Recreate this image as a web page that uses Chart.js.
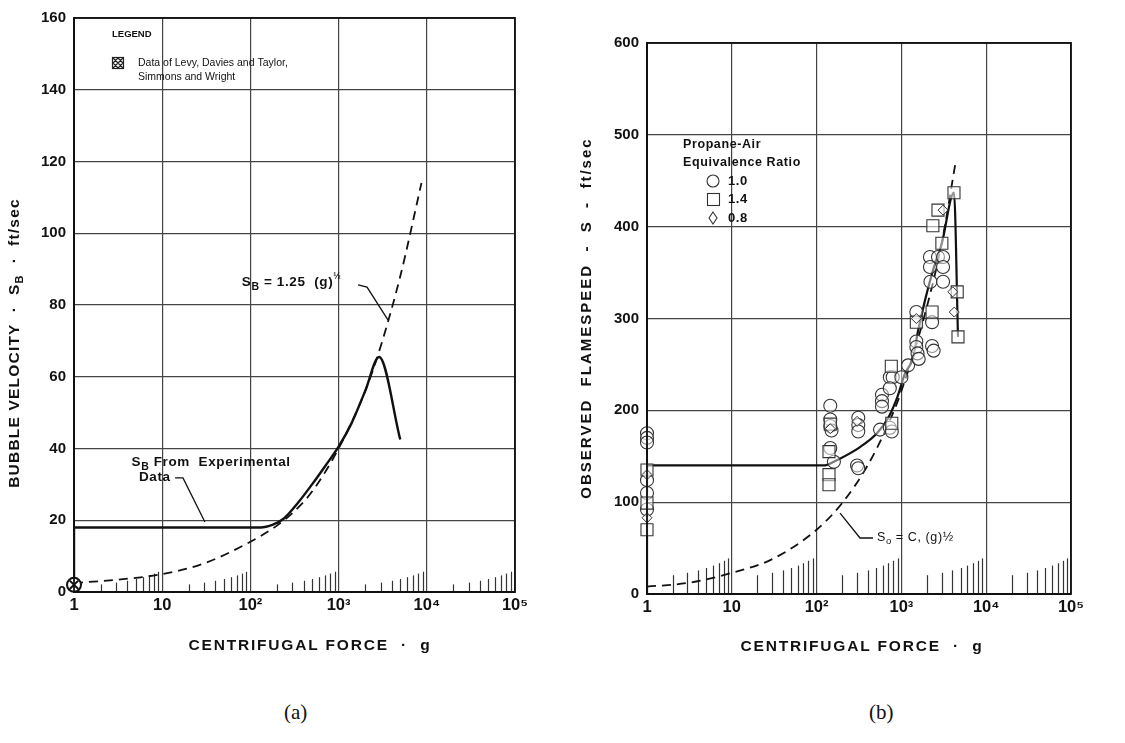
<!DOCTYPE html>
<html>
<head>
<meta charset="utf-8">
<script src="https://cdn.jsdelivr.net/npm/chart.js@4.4.0/dist/chart.umd.min.js"></script>
<style>
  body { margin: 0; background: #fff; width: 1125px; height: 743px; overflow: hidden; position: relative; }
  #wa { position: absolute; left: 0; top: 0; width: 545px; height: 680px; }
  #wb { position: absolute; left: 545px; top: 0; width: 580px; height: 680px; }
  .cap { position: absolute; top: 700px; font: 21px "Liberation Serif", "Times New Roman", serif; color: #111; }
</style>
</head>
<body>
<div id="wa"><canvas id="ca"></canvas></div>
<div id="wb"><canvas id="cb"></canvas></div>
<div class="cap" style="left:284px">(a)</div>
<div class="cap" style="left:869px">(b)</div>
<script>
// ---- shared x axis (log, centrifugal force g)
const gTicks = [1, 10, 100, 1000, 10000, 100000];
const gTickLabels = ['1', '10', '10²', '10³', '10⁴', '10⁵'];

// ---- (a) bubble velocity
const aTicksV = [0, 20, 40, 60, 80, 100, 120, 140, 160];
const aExpG = [1, 1, 130, 180, 240, 350, 500, 700, 1000, 1400, 2000, 2880, 5000];
const aExpV = [0, 18, 18, 18.8, 20.5, 25, 30, 35, 40.5, 47, 56, 65.5, 42.5];
const aFitG = [1, 3, 10, 30, 100, 200, 300, 500, 1000, 2000, 3000, 5000, 8700];
const aFitV = [2.5, 3.4, 5, 8, 14, 18.5, 22, 28, 40, 56, 68.5, 88, 114];
const aLevyG = [1];
const aLevyV = [2];

// ---- (b) observed flamespeed
const bTicksV = [0, 100, 200, 300, 400, 500, 600];
const bLineG = [1, 1, 120, 175, 325, 515, 700, 900, 1100, 1370, 1560, 1900, 2350, 3000, 4170, 4650];
const bLineV = [0, 140, 140, 146, 160, 175, 192, 215, 240, 257, 285, 320, 352, 382, 437, 280];
const bFitG = [1, 3, 10, 30, 100, 200, 400, 700, 1000, 2000, 3000, 4300];
const bFitV = [8, 12, 23, 38, 70, 99, 140, 185, 221, 313, 383, 467];
// equivalence ratio 1.0
const bCircG = [1, 1, 1, 1, 1, 1, 145, 145, 145, 150, 145, 160, 310, 310, 310, 300, 310,
  590, 590, 590, 560, 730, 790, 730, 730, 770, 1000, 1200, 1500, 1500, 1500, 1550, 1600,
  2300, 2300, 2400, 2170, 2700, 3100, 2170, 3100, 2200, 3100];
const bCircV = [175, 170, 165, 124, 110, 92, 205, 190, 183, 178, 159, 144, 192, 184, 177, 140, 137,
  217, 210, 204, 179, 236, 236, 224, 181, 177, 236, 249, 307, 275, 269, 262, 256,
  296, 270, 265, 367, 367, 367, 356, 356, 340, 340];
// equivalence ratio 1.4
const bSqG = [1, 1, 1, 145, 140, 140, 140, 760, 770, 1500, 2300, 2350, 2700, 3000, 4170, 4550, 4650];
const bSqV = [135, 99, 70, 185, 155, 130, 119, 248, 186, 296, 307, 401, 418, 382, 437, 329, 280];
// equivalence ratio 0.8
const bDiaG = [1, 1, 145, 300, 1500, 3100, 4030, 4200];
const bDiaV = [130, 83, 180, 188, 300, 418, 329, 307];

const FONT = '"Liberation Sans", Arial, sans-serif';
Chart.defaults.font.family = FONT;
Chart.defaults.color = '#111';
Chart.defaults.animation = false;

const pts = (xs, ys) => xs.map((x, i) => ({ x: x, y: ys[i] }));

function rich(ctx, parts, x, y, o) {
  ctx.save();
  ctx.translate(x, y);
  if (o.rot) ctx.rotate(o.rot);
  ctx.letterSpacing = (o.ls || 0) + 'px';
  ctx.textBaseline = 'middle';
  ctx.textAlign = 'left';
  ctx.fillStyle = '#111';
  const w = o.weight || 'bold';
  let total = 0;
  for (const p of parts) { ctx.font = w + ' ' + p[1] + 'px ' + FONT; total += ctx.measureText(p[0]).width; }
  let cx = o.align === 'left' ? 0 : -total / 2;
  for (const p of parts) {
    ctx.font = w + ' ' + p[1] + 'px ' + FONT;
    ctx.fillText(p[0], cx, p[2] || 0);
    cx += ctx.measureText(p[0]).width;
  }
  ctx.restore();
}

function leader(chart, list) {
  const xs = chart.scales.x, ys = chart.scales.y, ctx = chart.ctx;
  ctx.save();
  ctx.strokeStyle = '#111';
  ctx.lineWidth = 1.3;
  ctx.beginPath();
  list.forEach((p, i) => {
    const px = xs.getPixelForValue(p[0]), py = ys.getPixelForValue(p[1]);
    if (i === 0) ctx.moveTo(px, py); else ctx.lineTo(px, py);
  });
  ctx.stroke();
  ctx.restore();
}

// log paper: minor ticks as short rising hatch lines, plus frame
const paper = {
  id: 'paper',
  beforeDatasetsDraw(chart, args, o) {
    const xs = chart.scales.x, ctx = chart.ctx, bottom = chart.chartArea.bottom;
    ctx.save();
    ctx.strokeStyle = '#333';
    ctx.lineWidth = 1.2;
    for (let d = 0; d < 5; d++) {
      for (let k = 2; k <= 9; k++) {
        const px = Math.round(xs.getPixelForValue(k * Math.pow(10, d))) + 0.5;
        ctx.beginPath();
        ctx.moveTo(px, bottom);
        ctx.lineTo(px, bottom - (o.h0 + o.h1 * k));
        ctx.stroke();
      }
    }
    ctx.restore();
  },
  afterDatasetsDraw(chart, args, o) {
    const a = chart.chartArea, ctx = chart.ctx;
    ctx.save();
    ctx.strokeStyle = '#111';
    ctx.lineWidth = 1.8;
    ctx.strokeRect(a.left, a.top, a.right - a.left, a.bottom - a.top);
    ctx.restore();
    if (o.draw) o.draw(chart);
  }
};

function axes(yMax, yTicks, yWidth, xHeight) {
  return {
    x: {
      type: 'logarithmic', min: 1, max: 100000,
      afterBuildTicks: s => { s.ticks = gTicks.map(v => ({ value: v })); },
      afterFit: s => { s.height = xHeight; },
      ticks: { callback: (v, i) => gTickLabels[i], font: { size: 16.5, weight: 'bold' }, padding: 4, maxRotation: 0, autoSkip: false, color: '#111' },
      grid: { color: '#444', lineWidth: 1.2, drawTicks: false },
      border: { color: '#111', width: 2 }
    },
    y: {
      type: 'linear', min: 0, max: yMax,
      afterBuildTicks: s => { s.ticks = yTicks.map(v => ({ value: v })); },
      afterFit: s => { s.width = yWidth; },
      ticks: { font: { size: 15, weight: 'bold' }, padding: 8, color: '#111' },
      grid: { color: '#444', lineWidth: 1.2, drawTicks: false },
      border: { color: '#111', width: 2 }
    }
  };
}

new Chart(document.getElementById('ca'), {
  type: 'scatter',
  data: {
    datasets: [
      { data: pts(aLevyG, aLevyV), clip: false, pointStyle: 'crossRot', pointRadius: 6, borderColor: '#111', borderWidth: 2 },
      { data: pts(aLevyG, aLevyV), clip: false, pointStyle: 'circle', pointRadius: 7, borderColor: '#111', borderWidth: 2, backgroundColor: '#fff' },
      { data: pts(aExpG, aExpV), showLine: true, pointRadius: 0, borderColor: '#111', borderWidth: 2.4, cubicInterpolationMode: 'monotone' },
      { data: pts(aFitG, aFitV), showLine: true, pointRadius: 0, borderColor: '#111', borderWidth: 1.8, borderDash: [9, 6], cubicInterpolationMode: 'monotone' }
    ]
  },
  options: {
    responsive: true, maintainAspectRatio: false,
    layout: { padding: { left: 0, top: 18, right: 30, bottom: 0 } },
    scales: axes(160, aTicksV, 74, 88),
    plugins: {
      legend: { display: false }, tooltip: { enabled: false },
      paper: {
        h0: 4, h1: 1.8,
        draw(chart) {
          const ctx = chart.ctx, xs = chart.scales.x, ys = chart.scales.y;
          // legend box
          ctx.save();
          ctx.fillStyle = '#111';
          ctx.textBaseline = 'middle';
          ctx.font = 'bold 9.5px ' + FONT;
          ctx.fillText('LEGEND', 112, 34);
          ctx.font = '10.5px ' + FONT;
          ctx.fillText('Data of Levy, Davies and Taylor,', 138, 63);
          ctx.fillText('Simmons and Wright', 138, 77);
          ctx.strokeStyle = '#222';
          ctx.lineWidth = 1.2;
          ctx.strokeRect(112.5, 57.5, 11, 11);
          ctx.beginPath();
          ctx.moveTo(113, 58); ctx.lineTo(123, 68);
          ctx.moveTo(123, 58); ctx.lineTo(113, 68);
          ctx.moveTo(118, 58); ctx.lineTo(113, 63); ctx.moveTo(118, 58); ctx.lineTo(123, 63);
          ctx.moveTo(113, 63); ctx.lineTo(118, 68); ctx.moveTo(123, 63); ctx.lineTo(118, 68);
          ctx.stroke();
          ctx.restore();
          // annotations
          rich(ctx, [['S', 13.5, 0], ['B', 10.5, 5], [' = 1.25  (g)', 13.5, 0], ['½', 9, -6]],
            xs.getPixelForValue(80), ys.getPixelForValue(86.4), { align: 'left', ls: 0.6 });
          leader(chart, [[1660, 85.6], [2100, 85], [3640, 75.8]]);
          rich(ctx, [['S', 13.5, 0], ['B', 10.5, 5], [' From  Experimental', 13.5, 0]],
            xs.getPixelForValue(4.5), ys.getPixelForValue(36.2), { align: 'left', ls: 0.6 });
          rich(ctx, [['Data', 13.5, 0]], xs.getPixelForValue(5.46), ys.getPixelForValue(32), { align: 'left', ls: 0.6 });
          leader(chart, [[14, 31.8], [17.2, 31.8], [30.5, 19.5]]);
          // axis titles
          rich(ctx, [['BUBBLE VELOCITY  ·  S', 15.5, 0], ['B', 11, 5], ['  ·  ft/sec', 15.5, 0]],
            15, 343, { rot: -Math.PI / 2, ls: 1.2 });
          rich(ctx, [['CENTRIFUGAL FORCE  ·  g', 15.5, 0]], 310, 646, { ls: 1.8 });
        }
      }
    }
  },
  plugins: [paper]
});

new Chart(document.getElementById('cb'), {
  type: 'scatter',
  data: {
    datasets: [
      { data: pts(bDiaG, bDiaV), clip: false, pointStyle: 'rectRot', pointRadius: 5, borderColor: '#333', borderWidth: 1, backgroundColor: 'rgba(255,255,255,0.6)' },
      { data: pts(bSqG, bSqV), clip: false, pointStyle: 'rect', pointRadius: 8.5, borderColor: '#333', borderWidth: 1.1, backgroundColor: 'rgba(255,255,255,0.55)' },
      { data: pts(bCircG, bCircV), clip: false, pointStyle: 'circle', pointRadius: 6.5, borderColor: '#333', borderWidth: 1.1, backgroundColor: 'rgba(255,255,255,0.45)' },
      { data: pts(bLineG, bLineV), showLine: true, pointRadius: 0, borderColor: '#111', borderWidth: 2.2, cubicInterpolationMode: 'monotone' },
      { data: pts(bFitG, bFitV), showLine: true, pointRadius: 0, borderColor: '#111', borderWidth: 1.8, borderDash: [9, 6], cubicInterpolationMode: 'monotone' }
    ]
  },
  options: {
    responsive: true, maintainAspectRatio: false,
    layout: { padding: { left: 0, top: 43, right: 54, bottom: 0 } },
    scales: axes(600, bTicksV, 102, 86),
    plugins: {
      legend: { display: false }, tooltip: { enabled: false },
      paper: {
        h0: 14, h1: 2.4,
        draw(chart) {
          const ctx = chart.ctx, xs = chart.scales.x, ys = chart.scales.y;
          // legend
          rich(ctx, [['Propane-Air', 12.5, 0]], 138, 145, { align: 'left', ls: 0.6 });
          rich(ctx, [['Equivalence Ratio', 12.5, 0]], 138, 163, { align: 'left', ls: 0.6 });
          ctx.save();
          ctx.strokeStyle = '#333';
          ctx.lineWidth = 1.1;
          ctx.beginPath(); ctx.arc(168, 181, 6, 0, Math.PI * 2); ctx.stroke();
          ctx.strokeRect(162.5, 193.5, 12, 12);
          ctx.beginPath(); ctx.moveTo(168, 212); ctx.lineTo(172, 218); ctx.lineTo(168, 224); ctx.lineTo(164, 218); ctx.closePath(); ctx.stroke();
          ctx.restore();
          rich(ctx, [['1.0', 13, 0]], 183, 181, { align: 'left', ls: 0.6 });
          rich(ctx, [['1.4', 13, 0]], 183, 199, { align: 'left', ls: 0.6 });
          rich(ctx, [['0.8', 13, 0]], 183, 218, { align: 'left', ls: 0.6 });
          // annotation
          rich(ctx, [['S', 12.5, 0], ['o', 9.5, 4], [' = C, (g)½', 12.5, 0]],
            xs.getPixelForValue(515), ys.getPixelForValue(62), { align: 'left', weight: 'normal', ls: 0.6 });
          leader(chart, [[462, 61], [325, 61], [189, 88]]);
          // axis titles
          rich(ctx, [['OBSERVED  FLAMESPEED  -  S  -  ft/sec', 15, 0]], 42, 318, { rot: -Math.PI / 2, ls: 2 });
          rich(ctx, [['CENTRIFUGAL FORCE  ·  g', 15.5, 0]], 317, 647, { ls: 1.8 });
        }
      }
    }
  },
  plugins: [paper]
});
</script>
</body>
</html>
